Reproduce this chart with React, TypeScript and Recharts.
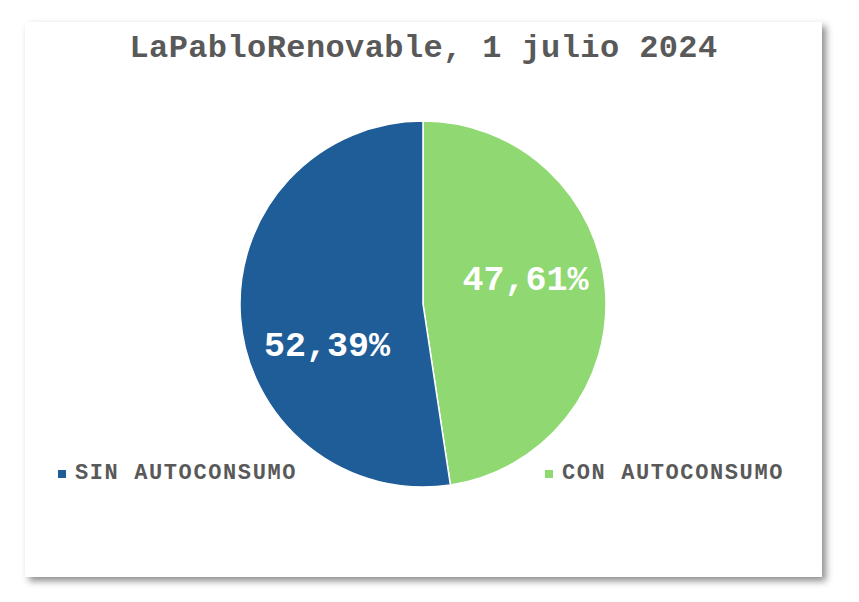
import { Cell, Legend, Pie, PieChart } from "recharts";

const TITLE = "LaPabloRenovable, 1 julio 2024";
// order follows the pie, clockwise from 12 o'clock
const SLICE_NAMES = ["CON AUTOCONSUMO", "SIN AUTOCONSUMO"];
const SLICE_VALUES = [47.61, 52.39];
const SLICE_LABELS = ["47,61%", "52,39%"];
const LEGEND_ORDER = ["SIN AUTOCONSUMO", "CON AUTOCONSUMO"];

const COLORS = ["#8FD872", "#1F5D99"];
const TEXT_GRAY = "#595959";
const FONT = '"Liberation Mono", "Courier New", monospace';

const CARD_W = 797;
const CARD_H = 555;
const PIE_CX = 398;
const PIE_CY = 282;
const PIE_R = 183;
// Excel "best fit" labels sit a bit off the slice bisector
const LABEL_RADIUS_RATIO = 0.575;
const LABEL_ANGLE_NUDGE = [8.5, 20];

const data = SLICE_NAMES.map((name, i) => ({
  name,
  value: SLICE_VALUES[i],
  label: SLICE_LABELS[i],
}));

const RADIAN = Math.PI / 180;

const renderLabel = function renderLabel(props: any) {
  const { cx, cy, midAngle, outerRadius, index } = props;
  const angle = (midAngle + LABEL_ANGLE_NUDGE[index]) * RADIAN;
  const r = outerRadius * LABEL_RADIUS_RATIO;
  const x = cx + r * Math.cos(angle);
  const y = cy - r * Math.sin(angle);
  return (
    <text
      x={x}
      y={y}
      fill="#FFFFFF"
      textAnchor="middle"
      dominantBaseline="central"
      style={{ fontFamily: FONT, fontWeight: 700, fontSize: 35 }}
    >
      {data[index].label}
    </text>
  );
};

const LegendRow = function LegendRow() {
  const items = LEGEND_ORDER.map((name) => {
    const i = SLICE_NAMES.indexOf(name);
    return { name, color: COLORS[i] };
  });
  return (
    <div
      style={{
        display: "flex",
        justifyContent: "space-between",
        width: 726,
        fontFamily: FONT,
        fontWeight: 700,
        fontSize: 22,
        letterSpacing: 1.6,
        color: TEXT_GRAY,
      }}
    >
      {items.map((it) => (
        <span
          key={it.name}
          style={{ display: "inline-flex", alignItems: "center", gap: 9 }}
        >
          <span
            style={{
              width: 8,
              height: 8,
              backgroundColor: it.color,
              display: "inline-block",
            }}
          />
          {it.name}
        </span>
      ))}
    </div>
  );
};

export default function App() {
  return (
    <div
      style={{
        position: "absolute",
        left: 0,
        top: 0,
        width: 859,
        height: 602,
        background: "#FFFFFF",
      }}
    >
      <div
        style={{
          position: "absolute",
          left: 25,
          top: 22,
          width: CARD_W,
          height: CARD_H,
          background: "#FFFFFF",
          boxShadow: "4px 4px 7px rgba(0,0,0,0.45)",
        }}
      >
        <div
          style={{
            position: "absolute",
            left: 0,
            top: 8,
            width: CARD_W,
            textAlign: "center",
            fontFamily: FONT,
            fontWeight: 700,
            fontSize: 32,
            letterSpacing: 0.4,
            color: TEXT_GRAY,
          }}
        >
          {TITLE}
        </div>
        <PieChart width={CARD_W} height={CARD_H} margin={{ top: 0, right: 0, bottom: 0, left: 0 }}>
          <Pie
            data={data}
            dataKey="value"
            nameKey="name"
            cx={PIE_CX}
            cy={PIE_CY}
            outerRadius={PIE_R}
            startAngle={90}
            endAngle={-270}
            stroke="#FFFFFF"
            strokeWidth={1.5}
            label={renderLabel}
            labelLine={false}
            isAnimationActive={false}
          >
            {data.map((d, i) => (
              <Cell key={d.name} fill={COLORS[i]} />
            ))}
          </Pie>
          <Legend
            content={LegendRow}
            wrapperStyle={{ left: 33, top: 439, width: 726 }}
          />
        </PieChart>
      </div>
    </div>
  );
}
